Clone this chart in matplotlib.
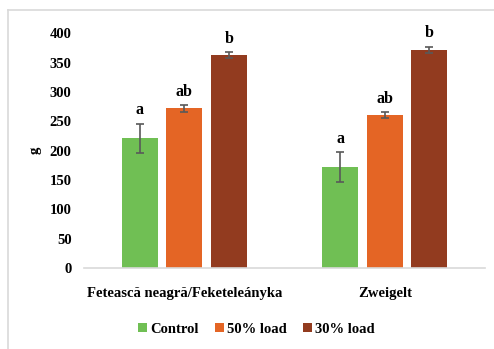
import numpy as np
import matplotlib
matplotlib.use('Agg')
from matplotlib import pyplot as plt
from matplotlib.lines import Line2D

# Data
cultivars = ['Fetească neagră/Feketeleányka', 'Zweigelt']
treatments = ['Control', '50% load', '30% load']
control = [221, 172]
load50 = [272, 261]
load30 = [363, 372]
control_err = [25, 25]
load50_err = [6, 5]
load30_err = [5, 5]
control_sig = ['a', 'a']
load50_sig = ['ab', 'ab']
load30_sig = ['b', 'b']

colors = ['#70bf54', '#e46525', '#923b1f']

plt.rcParams['font.family'] = ['Liberation Serif', 'DejaVu Serif']
plt.rcParams['font.weight'] = 'bold'

fig = plt.figure(figsize=(4.94, 3.49), dpi=100)
ax = fig.add_axes([0.170, 0.232, 0.812, 0.673])

x = np.arange(len(cultivars))
width = 0.18
offset = 0.222
series = [(control, control_err, control_sig),
          (load50, load50_err, load50_sig),
          (load30, load30_err, load30_sig)]

for i, (vals, errs, sigs) in enumerate(series):
    pos = x + (i - 1) * offset
    ax.bar(pos, vals, width, color=colors[i], label=treatments[i], zorder=2)
    ax.errorbar(pos, vals, yerr=errs, fmt='none', ecolor='#595959',
                elinewidth=1.2, capsize=3, capthick=1.2, zorder=3)
    for p, v, e, s in zip(pos, vals, errs, sigs):
        ax.text(p, v + e + 9, s, ha='center', va='bottom', fontsize=11.5,
                fontweight='bold', clip_on=False)

ax.set_xlim(-0.5, 1.5)
ax.set_ylim(0, 400)
ax.set_yticks(np.arange(0, 401, 50))
ax.set_xticks(x)
ax.set_xticklabels(cultivars, fontsize=10.5, fontweight='bold')
ax.tick_params(axis='y', length=0, labelsize=10.5, pad=9)
ax.tick_params(axis='x', length=0, pad=14)
ax.set_ylabel('g', fontsize=10.5, fontweight='bold', labelpad=6)

for side in ['top', 'right', 'left']:
    ax.spines[side].set_visible(False)
ax.spines['bottom'].set_color('#d9d9d9')
ax.spines['bottom'].set_linewidth(1.2)

ax.legend(loc='center', bbox_to_anchor=(0.43, -0.26), ncol=3, frameon=False,
          fontsize=10.5, handlelength=0.6, handleheight=0.6, handletextpad=0.25,
          columnspacing=1.1, borderpad=0.2)

# outer chart frame
fig.add_artist(Line2D([0.016, 0.016], [0.0, 0.971], color='#d9d9d9', lw=1.2))
fig.add_artist(Line2D([0.016, 1.0], [0.971, 0.971], color='#d9d9d9', lw=1.2))

fig.savefig('out.png', dpi=100)
